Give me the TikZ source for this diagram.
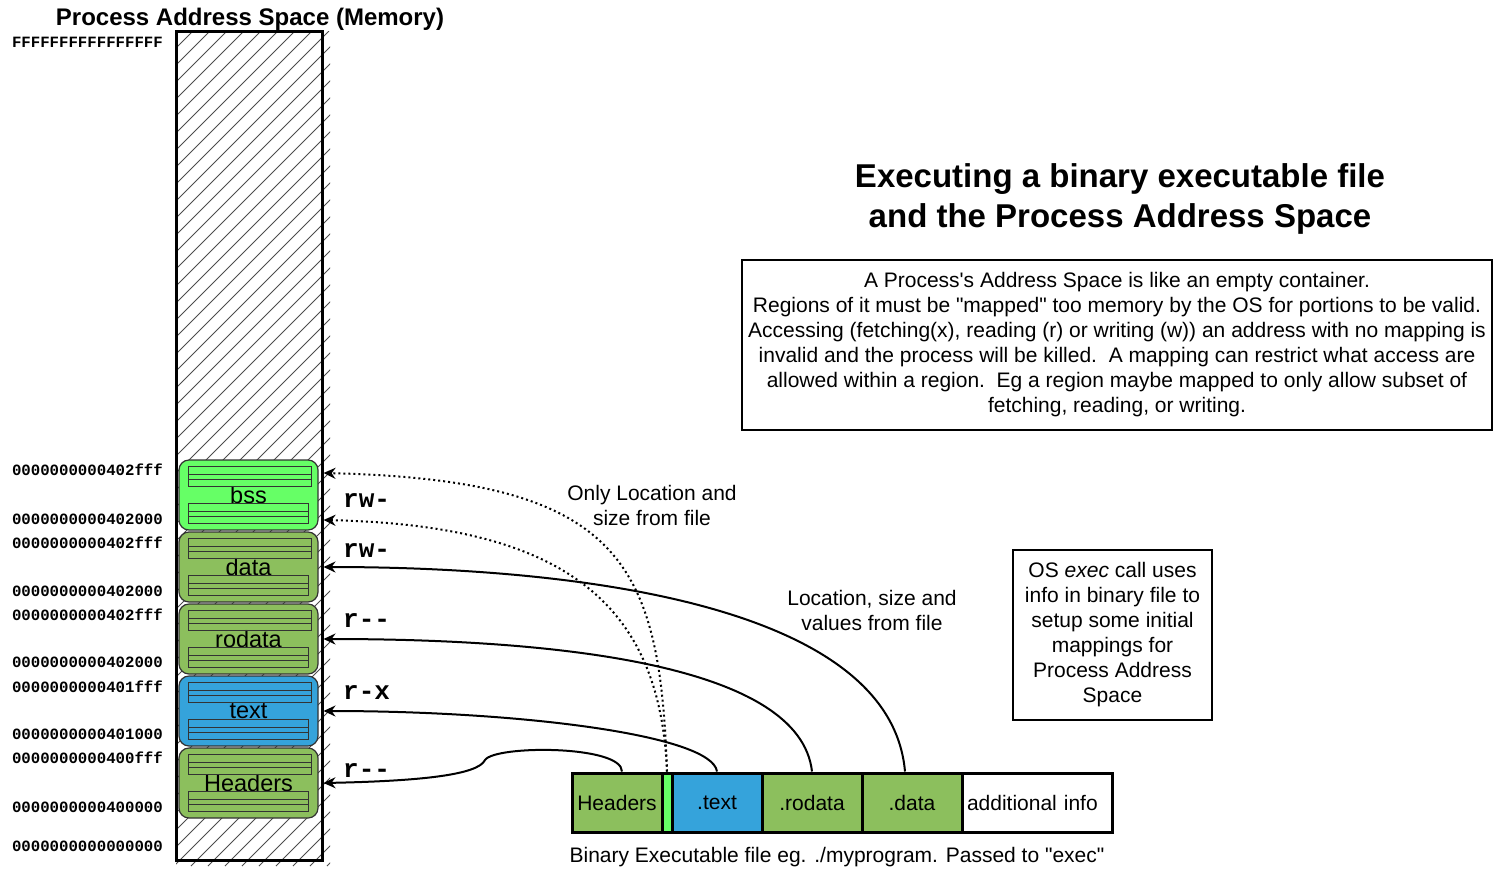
\documentclass[tikz,border=0pt]{standalone}
\usepackage{fontspec}
\setmainfont{Liberation Sans}[Ligatures=TeXOff]
\setmonofont{Liberation Mono}[Ligatures=TeXOff]
\usetikzlibrary{arrows.meta}

\definecolor{bssgreen}{HTML}{66FF66}
\definecolor{secgreen}{HTML}{8CBF5D}
\definecolor{textblue}{HTML}{35A3DB}

\tikzset{
  memcol/.style={draw, line width=3pt, minimum width=146pt, minimum height=829pt, inner sep=0pt},
  hatchline/.style={draw=black!70, line width=1pt},
  region/.style={draw=black!80, line width=1.2pt, rounded corners=10pt, minimum width=139pt,
    minimum height=70pt, inner sep=0pt, font=\fontsize{23.5}{26}\selectfont},
  stripe/.style={draw=black!80, line width=1pt},
  addr/.style={anchor=base east, inner sep=0pt, font=\ttfamily\bfseries\fontsize{15.7}{18}\selectfont},
  perm/.style={anchor=base west, inner sep=0pt, font=\ttfamily\bfseries\fontsize{26}{28}\selectfont},
  filebox/.style={draw, line width=3pt, minimum height=59pt, inner sep=0pt, font=\fontsize{21}{25}\selectfont},
  note/.style={align=center, font=\fontsize{21}{25}\selectfont},
  link/.style={line width=2pt, -{Stealth[length=12pt,width=11pt]}},
  maplink/.style={link, dash pattern=on 2pt off 3pt},
}

\begin{document}
\begin{tikzpicture}[x=1pt, y=-1pt]
  \useasboundingbox (0,0) rectangle (1494,871);
  % Draw the hatched address space column
  \begin{scope}
    \clip (176,31) rectangle (330,866);
    \foreach \c in {207,224,...,1210}
      \draw[hatchline] (\c-866,866) -- (\c-31,31);
  \end{scope}
  \node[memcol] (mem) at (249,445.5) {};
  \node[font=\bfseries\fontsize{24}{28}\selectfont] (memtitle) at (250,19) {Process Address Space (Memory)};

  % Draw the mapped regions, each with two striped bands
  \foreach \n/\t/\c/\lbl in {rbss/460/bssgreen/bss, rdata/532/secgreen/data, rrodata/604/secgreen/rodata,
                             rtext/676/textblue/text, rhead/748/secgreen/Headers} {
    \node[region, fill=\c] (\n) at (248.5,\t+35) {\lbl};
    \foreach \s/\r in {6/311, 43/308} {
      \draw[stripe] (188,\t+\s) rectangle (\r,\t+\s+20);
      \draw[stripe] (188,\t+\s+8) -- (\r,\t+\s+8) (188,\t+\s+13) -- (\r,\t+\s+13);
    }
  }

  % Addresses on the left
  \foreach \y/\a [count=\i] in {42/FFFFFFFFFFFFFFFF, 470/0000000000402fff, 519/0000000000402000,
      543/0000000000402fff, 591/0000000000402000, 615/0000000000402fff, 662/0000000000402000,
      687/0000000000401fff, 734/0000000000401000, 758/0000000000400fff, 807/0000000000400000,
      846/0000000000000000}
    \node[addr] (addr\i) at (163,\y+5) {\a};

  % Access rights
  \foreach \y/\p [count=\i] in {501/rw-, 551/rw-, 621/r--, 693/r-x, 771/r--}
    \node[perm] (perm\i) at (343,\y+6) {\p};

  % The binary file
  \node[filebox, fill=secgreen, minimum width=90pt] (fhead) at (617,802.5) {Headers};
  \node[filebox, fill=bssgreen, minimum width=10pt] (fbar) at (667,802.5) {};
  \node[filebox, fill=textblue, minimum width=90pt] (ftext) at (717,802.5) {.text};
  \node[filebox, fill=secgreen, minimum width=100pt] (frodata) at (812,802.5) {.rodata};
  \node[filebox, fill=secgreen, minimum width=100pt] (fdata) at (912,802.5) {.data};
  \node[filebox, fill=white, text width=140pt, align=left, inner xsep=5pt] (finfo) at (1037,802.5) {additional info};
  \node[note] (caption) at (837,857) {Binary Executable file eg. ./myprogram. Passed to "exec"};

  % Mappings from the file into the address space
  \coordinate (bsshi) at (323.5,473);
  \coordinate (bsslo) at (323.5,520);
  \draw[maplink] (fbar.north) .. controls (660,560) and (620,480) .. (bsshi);
  \draw[maplink] (fbar.north) .. controls (660,600) and (560,525) .. (bsslo);
  \draw[link] ([xshift=-7pt]fdata.north) .. controls (890,600) and (560,567) .. (mem.east |- rdata);
  \draw[link] (frodata.north) .. controls (800,665) and (560,639) .. (mem.east |- rrodata);
  \draw[link] (ftext.north) .. controls (712,735) and (520,711) .. (mem.east |- rtext);
  \draw[link] ([xshift=5pt]fhead.north) .. controls (622,745) and (495,745) .. (485,760)
    .. controls (478,775) and (420,781) .. (mem.east |- rhead);

  \node[note] (onlyloc) at (652,505) {Only Location and\\size from file};
  \node[note] (locsize) at (872,610) {Location, size and\\values from file};

  % Titles and explanations
  \node[align=center, font=\bfseries\fontsize{33}{40}\selectfont] (title) at (1120,199)
    {Executing a binary executable file\\and the Process Address Space};
  \node[note, draw, line width=2pt, minimum width=750pt, minimum height=170pt] (info) at (1117,345)
    {A Process's Address Space is like an empty container.\\
     Regions of it must be "mapped" too memory by the OS for portions to be valid.\\
     Accessing (fetching(x), reading (r) or writing (w)) an address with no mapping is\\
     invalid and the process will be killed.\ \ A mapping can restrict what access are\\
     allowed within a region.\ \ Eg a region maybe mapped to only allow subset of\\
     fetching, reading, or writing.};
  \node[note, draw, line width=2pt, minimum width=199pt, minimum height=170pt] (osexec) at (1112.5,635)
    {OS \textit{exec} call uses\\info in binary file to\\setup some initial\\mappings for\\Process Address\\Space};
\end{tikzpicture}
\end{document}
